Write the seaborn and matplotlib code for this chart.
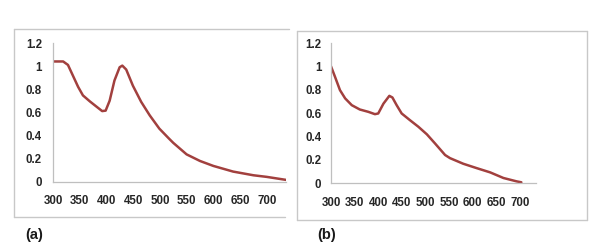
import matplotlib
matplotlib.use("Agg")
import matplotlib.pyplot as plt
import seaborn as sns
import pandas as pd
from matplotlib.lines import Line2D

sns.set_theme(style="white")
plt.rcParams['font.family'] = ['Liberation Sans', 'DejaVu Sans']
plt.rcParams['font.weight'] = 'bold'

# spectrum (a)
wl_a = [300, 319, 328, 337, 347, 356, 369, 381, 392, 398.5, 406, 415, 424.7,
        429.7, 437, 449.5, 465, 481, 499, 517, 525, 550, 575, 600, 637, 675,
        700, 736]
abs_a = [1.04, 1.04, 1.01, 0.92, 0.82, 0.746, 0.694, 0.65, 0.61, 0.614, 0.70,
         0.875, 0.99, 1.004, 0.97, 0.83, 0.69, 0.573, 0.458, 0.372, 0.335,
         0.235, 0.178, 0.135, 0.086, 0.054, 0.04, 0.014]

# spectrum (b)
wl_b = [300, 308.5, 319, 330, 344, 361, 379, 393, 400, 411, 423.5, 430, 439,
        449.6, 467, 485, 503, 520, 541.5, 552, 580, 608, 637, 665, 693, 703]
abs_b = [1.0, 0.91, 0.796, 0.725, 0.667, 0.63, 0.61, 0.59, 0.596, 0.68, 0.747,
         0.733, 0.667, 0.596, 0.539, 0.482, 0.417, 0.34, 0.24, 0.213, 0.165,
         0.128, 0.091, 0.043, 0.014, 0.006]

x_ticks = [300, 350, 400, 450, 500, 550, 600, 650, 700]
y_ticks = [0, 0.2, 0.4, 0.6, 0.8, 1, 1.2]
y_labels = ['0', '0.2', '0.4', '0.6', '0.8', '1', '1.2']

W, H = 604, 249
fig = plt.figure(figsize=(W / 100, H / 100), dpi=100)
fig.patch.set_facecolor('white')

line_color = '#a2403e'
frame_color = '#c8c8c8'


def px_rect(x0, y0, x1, y1):
    return [x0 / W, 1 - y1 / H, (x1 - x0) / W, (y1 - y0) / H]


def draw_panel(rect, wl, ab, xlim, ypad):
    ax = fig.add_axes(rect)
    df = pd.DataFrame({'wl': wl, 'abs': ab})
    sns.lineplot(data=df, x='wl', y='abs', ax=ax, color=line_color, lw=1.8)
    ax.set_xlim(*xlim)
    ax.set_ylim(0, 1.2)
    ax.set_xticks(x_ticks)
    ax.set_xticklabels([str(t) for t in x_ticks], fontweight='bold')
    ax.set_yticks(y_ticks)
    ax.set_yticklabels(y_labels, fontweight='bold')
    ax.set_xlabel('')
    ax.set_ylabel('')
    for s in ['top', 'right']:
        ax.spines[s].set_visible(False)
    for s in ['left', 'bottom']:
        ax.spines[s].set_color('#bfbfbf')
        ax.spines[s].set_linewidth(0.9)
    ax.tick_params(axis='both', length=0, labelsize=8.3, colors='#262626')
    ax.tick_params(axis='x', pad=10)
    ax.tick_params(axis='y', pad=ypad)
    ax.patch.set_alpha(0)
    return ax


draw_panel(px_rect(53, 43, 286, 181.5), wl_a, abs_a, (300, 736), 8)
draw_panel(px_rect(331, 43, 536, 183), wl_b, abs_b, (300, 734), 7)


def seg(x0, y0, x1, y1):
    fig.add_artist(Line2D([x0 / W, x1 / W], [1 - y0 / H, 1 - y1 / H],
                          transform=fig.transFigure, color=frame_color, lw=1.0))


# frame (a), right side cropped
seg(14, 29, 289, 29)
seg(14, 29, 14, 217)
seg(14, 217, 285, 217)
# frame (b)
seg(297, 31, 587, 31)
seg(297, 31, 297, 220)
seg(297, 220, 587, 220)
seg(587, 31, 587, 220)

fig.text(25 / W, 1 - 235 / H, '(a)', fontsize=10.5, fontweight='bold',
         color='#1a1a1a', va='center', ha='left')
fig.text(317 / W, 1 - 235 / H, '(b)', fontsize=10.5, fontweight='bold',
         color='#1a1a1a', va='center', ha='left')

fig.savefig('out.png', dpi=100)
